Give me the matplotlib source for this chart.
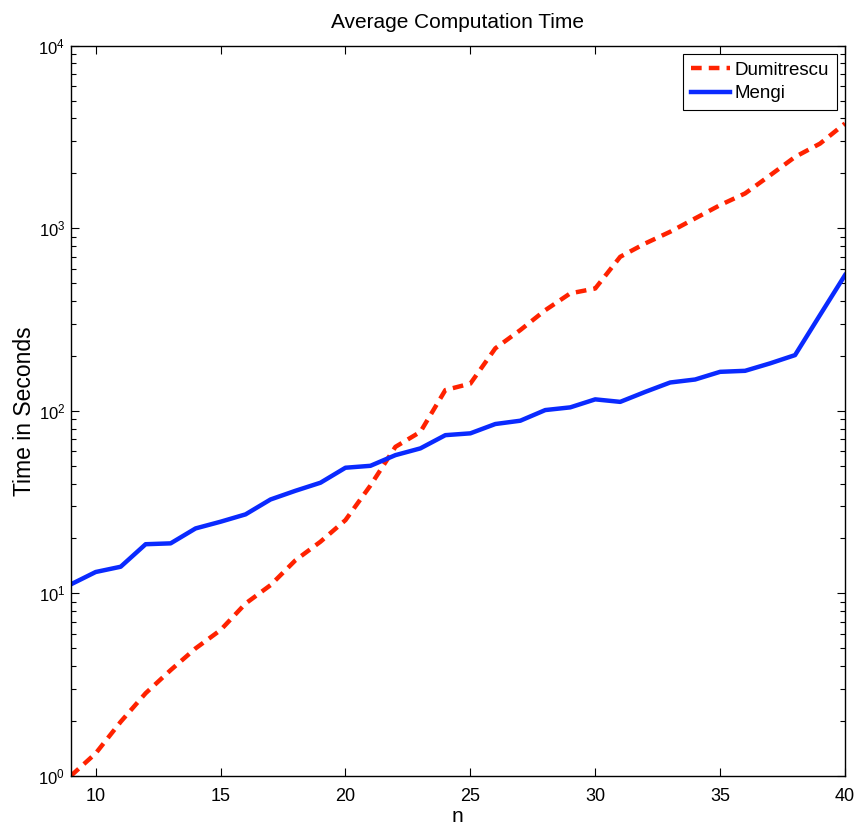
import numpy as np
import matplotlib
matplotlib.use("Agg")
import matplotlib.pyplot as plt

plt.rcParams['font.family'] = ['Liberation Sans', 'DejaVu Sans']
plt.rcParams['mathtext.fontset'] = 'custom'
plt.rcParams['mathtext.rm'] = 'Liberation Sans'

# ─── DATA ────────────────────────────────────────────────────────────────────
n_values = list(range(9, 41))

dumitrescu = [1.0, 1.33, 1.98, 2.84, 3.8, 5.0, 6.3, 8.8, 11.1, 15.2, 19.2, 25.2,
              39, 63.5, 76.7, 130, 141, 220, 277, 356, 440, 468, 698, 826,
              957, 1133, 1340, 1552, 1950, 2460, 2910, 3750]

mengi = [11.2, 13.1, 14.0, 18.6, 18.8, 22.7, 24.7, 27.1, 32.7, 36.5, 40.4, 48.8,
         50.0, 57.2, 62.3, 73.6, 75.3, 84.7, 88.3, 101, 104.5, 115.6, 112, 127,
         143, 148.5, 163.6, 165.7, 182, 202, 335, 554]

# ─── PLOT ────────────────────────────────────────────────────────────────────
fig = plt.figure(figsize=(8.55, 8.27), dpi=100)
ax = fig.add_axes([0.0827, 0.0617, 0.9056, 0.883])

ax.plot(n_values, dumitrescu, color='#ff2200', lw=3.2, ls=(0, (2.4, 1.6)),
        label='Dumitrescu')
ax.plot(n_values, mengi, color='#0a2aff', lw=3.2, label='Mengi')

ax.set_yscale('log')
ax.set_xlim(9, 40)
ax.set_ylim(1, 1e4)
ax.set_xticks([10, 15, 20, 25, 30, 35, 40])

ax.tick_params(which='both', direction='in', top=True, right=True, labelsize=13)
ax.tick_params(which='major', length=6, width=0.8)
ax.tick_params(which='minor', length=3.5, width=0.8)
ax.tick_params(axis='x', which='major', pad=9)
ax.tick_params(axis='y', which='major', labelsize=12, pad=4)
ax.tick_params(axis='x', which='minor', top=False, bottom=False)
for sp in ax.spines.values():
    sp.set_linewidth(1.0)

ax.set_title('Average Computation Time', fontsize=15, pad=13)
ax.set_xlabel('n', fontsize=15, labelpad=1)
ax.set_ylabel('Time in Seconds', fontsize=16.5, labelpad=2)

leg = ax.legend(loc='upper right', fontsize=13.5, fancybox=False, framealpha=1,
                edgecolor='black', handlelength=2.1, borderpad=0.4,
                labelspacing=0.35, handletextpad=0.25, borderaxespad=0.45)
leg.get_frame().set_linewidth(0.8)

fig.savefig('out.png', dpi=100)
